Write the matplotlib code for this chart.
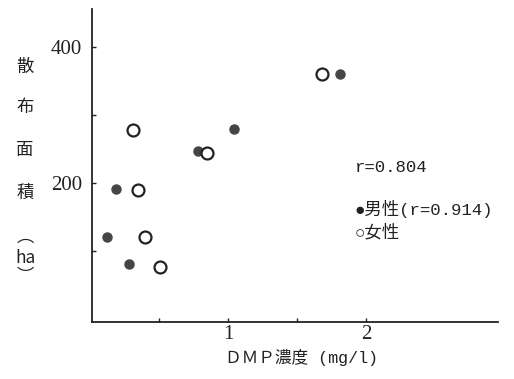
import matplotlib; matplotlib.use("Agg")
import matplotlib.pyplot as plt

# values
male_x = [0.12, 0.19, 0.28, 0.78, 1.04, 1.81]
male_y = [121, 192, 81, 247, 280, 360]
female_x = [0.31, 0.35, 0.40, 0.51, 0.85, 1.68]
female_y = [279, 190, 121, 77, 245, 360]
x_ticks = [0.5, 1, 1.5, 2]; x_labels = ["", "1", "", "2"]
y_ticks = [100, 200, 300, 400]; y_labels = ["", "200", "", "400"]
ylabel_chars = ["散", "布", "面", "積", "︵", "ha", "︶"]
xlabel = "ＤＭＰ濃度 (mg/l)"
r_all = "r=0.804"
leg_male = "●男性(r=0.914)"; leg_female = "○女性"

JP = ["Noto Sans CJK JP", "DejaVu Sans"]
MONO_JP = ["Liberation Mono", "Noto Sans CJK JP", "DejaVu Sans"]
INK = "#222222"

fig = plt.figure(figsize=(5.14, 3.79), dpi=100)
ax = fig.add_axes([0.179, 0.150, 0.790, 0.826])
ax.plot(male_x, male_y, "o", color="#454545", ms=6.5, mec="#454545")
ax.plot(female_x, female_y, "o", mfc="white", mec=INK, mew=1.6, ms=8.6)
ax.set_xlim(0.014, 2.957); ax.set_ylim(-4, 456)
for s in ("top", "right"):
    ax.spines[s].set_visible(False)
for s in ("left", "bottom"):
    ax.spines[s].set_color(INK); ax.spines[s].set_linewidth(1.3)
ax.set_xticks(x_ticks); ax.set_xticklabels(x_labels, family="Liberation Serif", fontsize=15)
ax.set_yticks(y_ticks); ax.set_yticklabels(y_labels, family="Liberation Serif", fontsize=15)
ax.tick_params(direction="in", length=3, width=1, color=INK, labelcolor=INK)
ax.tick_params(axis="y", pad=7)
ax.tick_params(axis="x", pad=2)

ax.text(1.92, 223, r_all, family="Liberation Mono", fontsize=12.5, color=INK, va="center")
ax.text(1.915, 162, leg_male, family=MONO_JP, fontsize=12.5, color=INK, va="center")
ax.text(1.915, 128, leg_female, family=MONO_JP, fontsize=12.5, color=INK, va="center")

fig.text(0.587, 0.058, xlabel, family=MONO_JP, fontsize=12, color=INK, ha="center", va="center")
ylabel_pos = [0.823, 0.718, 0.604, 0.491, 0.375, 0.319, 0.272]
for ch, yp in zip(ylabel_chars, ylabel_pos):
    fig.text(0.049, yp, ch, family=JP, fontsize=12.5, color=INK, ha="center", va="center")

fig.savefig("out.png", dpi=100)
